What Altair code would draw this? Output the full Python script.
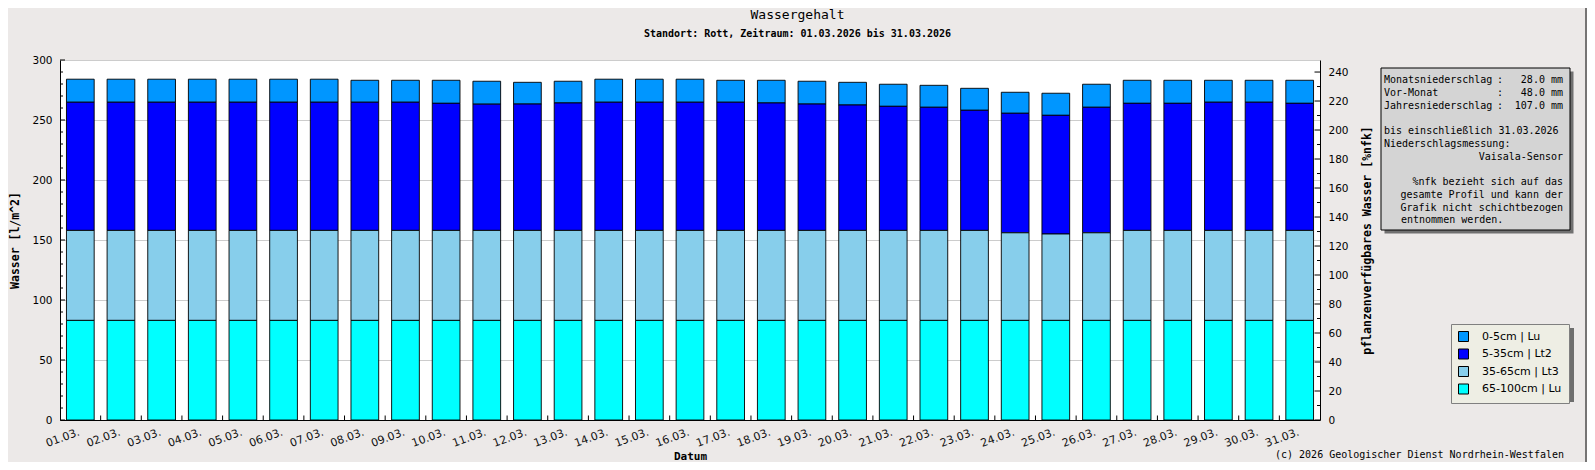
import altair as alt
import pandas as pd

# ---------------- data ----------------
dates = ["01.03.", "02.03.", "03.03.", "04.03.", "05.03.", "06.03.", "07.03.", "08.03.",
         "09.03.", "10.03.", "11.03.", "12.03.", "13.03.", "14.03.", "15.03.", "16.03.",
         "17.03.", "18.03.", "19.03.", "20.03.", "21.03.", "22.03.", "23.03.", "24.03.",
         "25.03.", "26.03.", "27.03.", "28.03.", "29.03.", "30.03.", "31.03."]
layers = ["0-5cm | Lu", "5-35cm | Lt2", "35-65cm | Lt3", "65-100cm | Lu"]
colors = ["#0096FF", "#0000FF", "#87CEEB", "#00FFFF"]

v_0_5 = [19.2, 19.2, 19.2, 19.2, 19.2, 19.2, 19.2, 18.3, 18.3, 19.2, 19.1, 18.1, 18.1, 19.2, 19.2, 19.2,
         18.3, 18.9, 19.0, 18.9, 18.4, 18.3, 18.3, 17.5, 18.4, 19.2, 19.2, 19.2, 18.3, 18.3, 19.2]
v_5_35 = [106.8, 106.8, 106.8, 106.8, 106.8, 106.8, 106.8, 106.8, 106.8, 105.9, 105.2, 105.3, 106.2,
          106.8, 106.8, 106.8, 106.8, 106.2, 105.3, 104.5, 103.4, 102.6, 100.1, 99.6, 98.9, 104.6,
          105.9, 105.9, 106.8, 106.8, 105.9]
v_35_65 = [75.0, 75.0, 75.0, 75.0, 75.0, 75.0, 75.0, 75.0, 75.0, 75.0, 75.0, 75.0, 75.0, 75.0, 75.0, 75.0,
           75.0, 75.0, 75.0, 75.0, 75.0, 75.0, 75.0, 73.0, 72.0, 73.0, 75.0, 75.0, 75.0, 75.0, 75.0]
v_65_100 = [83.0, 83.0, 83.0, 83.0, 83.0, 83.0, 83.0, 83.0, 83.0, 83.0, 83.0, 83.0, 83.0, 83.0, 83.0, 83.0,
            83.0, 83.0, 83.0, 83.0, 83.0, 83.0, 83.0, 83.0, 83.0, 83.0, 83.0, 83.0, 83.0, 83.0, 83.0]

left_major = [0, 50, 100, 150, 200, 250, 300]
left_minor = [10, 20, 30, 40, 60, 70, 80, 90, 110, 120, 130, 140, 160, 170, 180, 190,
              210, 220, 230, 240, 260, 270, 280, 290]
right_major = [0, 20, 40, 60, 80, 100, 120, 140, 160, 180, 200, 220, 240]
right_minor = [10, 30, 50, 70, 90, 110, 130, 150, 170, 190, 210, 230]

title_text = "Wassergehalt"
subtitle_text = "Standort: Rott, Zeitraum: 01.03.2026 bis 31.03.2026"
copyright_text = "(c) 2026 Geologischer Dienst Nordrhein-Westfalen"
info_labels = ["Monatsniederschlag", "Vor-Monat", "Jahresniederschlag"]
info_values = ["28.0 mm", "48.0 mm", "107.0 mm"]
info_until = "bis einschließlich 31.03.2026"
info_measure = "Niederschlagsmessung:"
info_sensor = "Vaisala-Sensor"
info_note = ["%nfk bezieht sich auf das", "gesamte Profil und kann der", "Grafik nicht schichtbezogen"]
info_note_last = "entnommen werden."

# ---------------- table ----------------
rows = []
series = [v_0_5, v_5_35, v_35_65, v_65_100]
for li, (name, vals) in enumerate(zip(layers, series)):
    for d, v in zip(dates, vals):
        rows.append({"Datum": d, "Schicht": name, "Wert": v, "o": 3 - li})
df = pd.DataFrame(rows)

W, H = 1260, 360
MONO = "DejaVu Sans Mono"
SANS = "DejaVu Sans"
PAD = 0.318


def xscale():
    return alt.Scale(domain=dates, paddingInner=PAD, paddingOuter=PAD / 2)


def yscale_l():
    return alt.Scale(domain=[0, 300], nice=False, zero=True)


def yscale_r():
    return alt.Scale(domain=[0, 248.3], nice=False, zero=True)


empty = alt.Data(values=[{}])


def txt(s, x, y, size=10, weight="normal", align="left", font=MONO):
    return alt.Chart(empty).mark_text(
        text=s, font=font, fontSize=size, fontWeight=weight, align=align,
        baseline="middle", color="black"
    ).encode(x=alt.value(x), y=alt.value(y))


def box(x1, x2, y1, y2, fill, stroke=None):
    kw = dict(fill=fill)
    if stroke:
        kw.update(stroke=stroke, strokeWidth=1)
    else:
        kw.update(strokeWidth=0)
    return alt.Chart(empty).mark_rect(**kw).encode(
        x=alt.value(x1), x2=alt.value(x2), y=alt.value(y1), y2=alt.value(y2))


bars = alt.Chart(df).mark_bar(stroke="black", strokeWidth=1, strokeOpacity=0.9).encode(
    x=alt.X("Datum:N", sort=dates, scale=xscale(),
            axis=alt.Axis(title="Datum", labelAngle=340, labelAlign="right", labelBaseline="top",
                          labelOffset=-3, labelPadding=6, ticks=False, domainColor="black",
                          labelFont=SANS, labelFontSize=11, labelColor="#111111", labelOverlap=False,
                          titleFont=MONO, titleFontWeight="bold", titleFontSize=11,
                          titleX=630, titleY=36.5, titleAlign="center", titleBaseline="middle",
                          titleColor="black", grid=False)),
    y=alt.Y("Wert:Q", stack="zero", scale=yscale_l(),
            axis=alt.Axis(title="Wasser [l/m^2]", values=left_major, grid=True, gridColor="#CCCCCC",
                          ticks=False, domainColor="black", labelPadding=8, labelFont=SANS,
                          labelFontSize=10.5, labelColor="black",
                          titleFont=MONO, titleFontWeight="bold", titleFontSize=11.5,
                          titleX=-45, titleY=180, titleAngle=270, titleAlign="center",
                          titleBaseline="middle", titleColor="black")),
    color=alt.Color("Schicht:N", scale=alt.Scale(domain=layers, range=colors),
                    legend=alt.Legend(title=None, orient="none", legendX=1391, legendY=264,
                                      symbolType="square", symbolSize=100, symbolStrokeColor="black",
                                      symbolStrokeWidth=1, labelFont=SANS, labelFontSize=11,
                                      labelColor="black", padding=7, rowPadding=2.5, labelOffset=13,
                                      fillColor="#EEEEE4", strokeColor="#808080")),
    order=alt.Order("o:Q", sort="ascending"),
)

lmaj = alt.Chart(pd.DataFrame({"t": left_major})).mark_rule(color="black").encode(
    y=alt.Y("t:Q", scale=yscale_l(), axis=None), x=alt.value(0), x2=alt.value(5))
lmin = alt.Chart(pd.DataFrame({"t": left_minor})).mark_rule(color="black").encode(
    y=alt.Y("t:Q", scale=yscale_l(), axis=None), x=alt.value(0), x2=alt.value(3))
xt = alt.Chart(pd.DataFrame({"Datum": dates[1:]})).mark_rule(color="black", xOffset=-PAD * W / 31 / 2).encode(
    x=alt.X("Datum:N", sort=dates, scale=xscale(), bandPosition=0, axis=None),
    y=alt.value(H), y2=alt.value(H - 4.5))

rmaj = alt.Chart(pd.DataFrame({"t": right_major})).mark_rule(color="black").encode(
    y=alt.Y("t:Q", scale=yscale_r(),
            axis=alt.Axis(orient="right", values=right_major, title="pflanzenverfügbares Wasser [%nfk]",
                          grid=False, ticks=False, domainColor="black", labelPadding=8,
                          labelFont=SANS, labelFontSize=10.5, labelColor="black",
                          titleFont=MONO, titleFontWeight="bold", titleFontSize=11.5,
                          titleX=47, titleY=180, titleAngle=270, titleAlign="center",
                          titleBaseline="middle", titleColor="black")),
    x=alt.value(W), x2=alt.value(W - 5.5))
rmin = alt.Chart(pd.DataFrame({"t": right_minor})).mark_rule(color="black").encode(
    y=alt.Y("t:Q", scale=yscale_r(), axis=None), x=alt.value(W), x2=alt.value(W - 3))

decor = [
    box(1324.5, 1513.5, 11.5, 173.5, "#707070"),
    box(1321, 1510, 8, 170, "#D4D4D4", "black"),
    box(1395, 1514, 268, 342, "#6E6E6E"),
]
texts = [
    alt.Chart(empty).mark_rule(color="black").encode(
        x=alt.value(1526), y=alt.value(-60), y2=alt.value(405)),
    txt(title_text, 737.5, -45.5, size=13, align="center"),
    txt(subtitle_text, 737.5, -26.5, size=10, weight="bold", align="center"),
    txt(copyright_text, 1215, 395, size=10),
]
ys = [20, 32.75, 45.5]
for lab, val, yy in zip(info_labels, info_values, ys):
    texts.append(txt(lab, 1324, yy))
    texts.append(txt(":", 1437, yy))
    texts.append(txt(val, 1503, yy, align="right"))
texts.append(txt(info_until, 1324, 71))
texts.append(txt(info_measure, 1324, 83.75))
texts.append(txt(info_sensor, 1503, 96.5, align="right"))
for s, yy in zip(info_note, [122, 134.75, 147.5]):
    texts.append(txt(s, 1503, yy, align="right"))
texts.append(txt(info_note_last, 1341, 160.25))

chart = alt.layer(*decor, bars, lmaj, lmin, xt, rmaj, rmin, *texts).resolve_scale(
    x="independent", y="independent"
).properties(
    width=W, height=H,
    autosize=alt.AutoSizeParams(type="none"),
    padding={"left": 52, "top": 52, "right": 267, "bottom": 42},
    background="#ECE9E8",
).configure_view(fill="white", strokeWidth=0)

chart.save("out.html", embed_options={"renderer": "svg", "actions": False})
